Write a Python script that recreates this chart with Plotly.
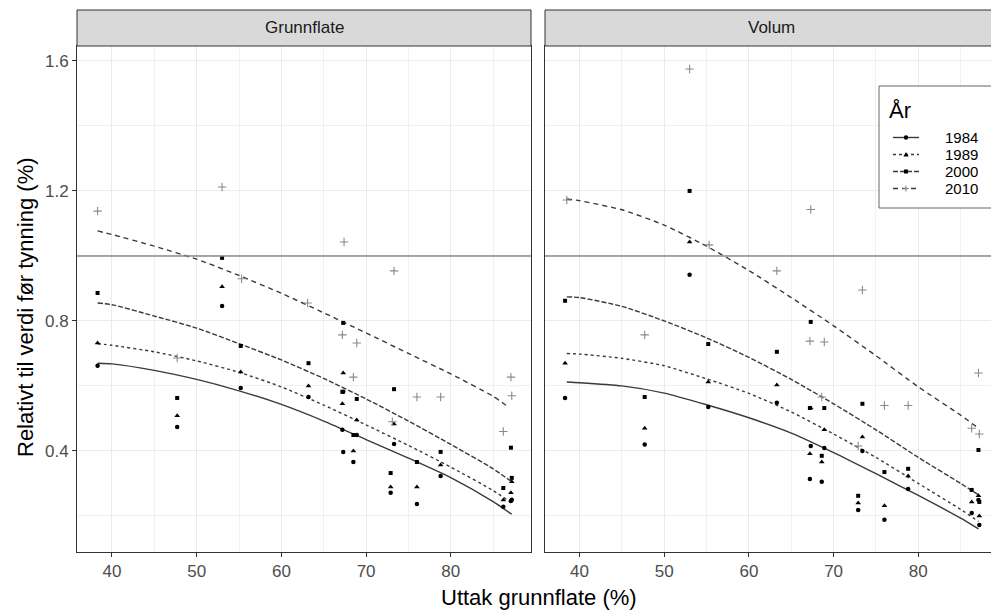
import plotly.graph_objects as go

W, H = 991, 612

# ---------------- data ----------------
YEARS = ["1984", "1989", "2000", "2010"]
PANELS = ["Grunnflate", "Volum"]
X_LABEL = "Uttak grunnflate (%)"
Y_LABEL = "Relativt til verdi før tynning (%)"
LEGEND_TITLE = "År"
X_TICKS = [40, 50, 60, 70, 80]
Y_TICKS = [0.4, 0.8, 1.2, 1.6]
REF_LEVEL = 1.0

# fitted curves, Grunnflate panel
g_curve_x = {
    "1984": [38.3, 40, 45, 50, 55, 60, 65, 70, 75, 80, 85, 87.2],
    "1989": [38.3, 40, 45, 50, 55, 60, 65, 70, 75, 80, 85, 87.2],
    "2000": [38.3, 40, 45, 50, 55, 60, 65, 70, 75, 80, 85, 87.2],
    "2010": [38.3, 40, 45, 50, 55, 60, 65, 70, 75, 80, 85, 86.8],
}
g_curve_y = {
    "1984": [0.670, 0.668, 0.648, 0.620, 0.585, 0.543, 0.492, 0.435, 0.378, 0.318, 0.244, 0.205],
    "1989": [0.730, 0.725, 0.705, 0.677, 0.642, 0.597, 0.541, 0.480, 0.417, 0.350, 0.278, 0.240],
    "2000": [0.855, 0.850, 0.815, 0.778, 0.730, 0.680, 0.623, 0.560, 0.492, 0.420, 0.345, 0.305],
    "2010": [1.077, 1.066, 1.030, 0.990, 0.940, 0.885, 0.825, 0.763, 0.700, 0.637, 0.568, 0.535],
}
# fitted curves, Volum panel
v_curve_x = {
    "1984": [38.5, 40, 45, 50, 55, 60, 65, 70, 75, 80, 85, 87.1],
    "1989": [38.5, 40, 45, 50, 55, 60, 65, 70, 75, 80, 85, 87.1],
    "2000": [38.5, 40, 45, 50, 55, 60, 65, 70, 75, 80, 85, 87.1],
    "2010": [38.5, 40, 45, 50, 55, 60, 65, 70, 75, 80, 85, 87.1],
}
v_curve_y = {
    "1984": [0.612, 0.610, 0.600, 0.578, 0.542, 0.502, 0.455, 0.395, 0.330, 0.263, 0.193, 0.160],
    "1989": [0.700, 0.698, 0.685, 0.662, 0.622, 0.577, 0.520, 0.452, 0.380, 0.300, 0.220, 0.183],
    "2000": [0.874, 0.872, 0.845, 0.800, 0.748, 0.688, 0.620, 0.545, 0.465, 0.380, 0.300, 0.265],
    "2010": [1.175, 1.170, 1.142, 1.095, 1.030, 0.955, 0.872, 0.785, 0.693, 0.597, 0.510, 0.470],
}

# observed points, Grunnflate panel
g_pts_x = {
    "1984": [38.3, 47.7, 53.0, 55.2, 63.2, 67.3, 67.2, 67.3, 68.9, 68.5, 73.3, 72.9, 76.0, 78.8, 87.1, 87.2, 86.2],
    "1989": [38.3, 47.7, 53.0, 55.2, 63.2, 67.3, 67.2, 68.9, 68.5, 73.3, 72.9, 76.0, 78.8, 87.1, 87.2, 86.2],
    "2000": [38.3, 47.7, 53.0, 55.2, 63.2, 67.3, 67.2, 68.9, 68.5, 73.3, 72.9, 76.0, 78.8, 87.1, 87.2, 86.2],
    "2010": [38.3, 47.7, 53.0, 55.3, 63.1, 67.4, 67.2, 68.9, 68.5, 73.3, 73.1, 76.0, 78.8, 87.1, 87.2, 86.2],
}
g_pts_y = {
    "1984": [0.662, 0.474, 0.846, 0.594, 0.566, 0.582, 0.465, 0.397, 0.449, 0.366, 0.421, 0.271, 0.237, 0.323, 0.246, 0.250, 0.228],
    "1989": [0.732, 0.508, 0.905, 0.643, 0.600, 0.640, 0.545, 0.495, 0.400, 0.483, 0.289, 0.289, 0.357, 0.271, 0.305, 0.249],
    "2000": [0.886, 0.563, 0.994, 0.723, 0.670, 0.794, 0.582, 0.560, 0.449, 0.590, 0.332, 0.366, 0.397, 0.410, 0.317, 0.286],
    "2010": [1.138, 0.686, 1.212, 0.930, 0.855, 1.043, 0.757, 0.732, 0.627, 0.954, 0.490, 0.566, 0.566, 0.627, 0.570, 0.460],
}
# observed points, Volum panel
v_pts_x = {
    "1984": [38.3, 47.7, 53.0, 55.2, 63.3, 67.3, 67.2, 68.9, 68.6, 73.4, 72.9, 76.0, 78.8, 87.1, 87.2, 86.3],
    "1989": [38.3, 47.7, 53.0, 55.2, 63.3, 67.3, 67.2, 68.9, 68.6, 73.4, 72.9, 76.0, 78.8, 87.1, 87.2, 86.3],
    "2000": [38.3, 47.7, 53.0, 55.2, 63.3, 67.3, 67.2, 68.9, 68.6, 73.4, 72.9, 76.0, 78.8, 87.1, 87.2, 86.3],
    "2010": [38.5, 47.7, 53.0, 55.3, 63.3, 67.3, 67.2, 68.9, 68.6, 73.4, 72.9, 76.0, 78.8, 87.1, 87.2, 86.3],
}
v_pts_y = {
    "1984": [0.563, 0.420, 0.942, 0.535, 0.548, 0.415, 0.314, 0.409, 0.305, 0.400, 0.218, 0.188, 0.283, 0.249, 0.172, 0.209],
    "1989": [0.670, 0.470, 1.043, 0.612, 0.603, 0.532, 0.391, 0.465, 0.366, 0.443, 0.240, 0.231, 0.323, 0.262, 0.200, 0.243],
    "2000": [0.862, 0.566, 1.200, 0.729, 0.705, 0.797, 0.532, 0.532, 0.385, 0.545, 0.262, 0.335, 0.345, 0.403, 0.243, 0.280],
    "2010": [1.172, 0.757, 1.575, 1.034, 0.954, 1.143, 0.738, 0.735, 0.566, 0.895, 0.415, 0.540, 0.540, 0.640, 0.452, 0.470],
}

# ---------------- styles ----------------
FONT = "Liberation Sans, Arial, sans-serif"
LINE_COLOR = "#3a3a3a"
DASH = {"1984": "solid", "1989": "dot", "2000": "5px,2px", "2010": "5px,4px"}
MSYM = {"1984": "circle", "1989": "triangle-up", "2000": "square", "2010": "cross-thin"}
MSIZE = {"1984": 4.5, "1989": 5, "2000": 4, "2010": 6}
MCOL = {"1984": "black", "1989": "black", "2000": "black", "2010": "#8a8a8a"}


def px(x):
    return x / W


def py(y):
    return 1 - y / H


fig = go.Figure()

panel_data = [
    ("x", "y", g_curve_x, g_curve_y, g_pts_x, g_pts_y),
    ("x2", "y2", v_curve_x, v_curve_y, v_pts_x, v_pts_y),
]
for xa, ya, cx, cy, pxs, pys in panel_data:
    for yr in YEARS:
        fig.add_trace(go.Scatter(
            x=cx[yr], y=cy[yr], mode="lines", xaxis=xa, yaxis=ya,
            line=dict(color=LINE_COLOR, width=1.4, dash=DASH[yr], shape="spline", smoothing=0.6),
            showlegend=False, hoverinfo="skip"))
    for yr in YEARS:
        mk = dict(symbol=MSYM[yr], size=MSIZE[yr], color=MCOL[yr])
        if yr == "2010":
            mk["line"] = dict(color=MCOL[yr], width=1.1)
        else:
            mk["line"] = dict(width=0)
        fig.add_trace(go.Scatter(
            x=pxs[yr], y=pys[yr], mode="markers", xaxis=xa, yaxis=ya,
            marker=mk, showlegend=False, name=yr))

# panel geometry (pixels)
L_X0, L_X1 = 77, 531
R_X0, R_X1 = 545, 991
P_Y0, P_Y1 = 46, 552
STRIP_Y0 = 10

xaxis_common = dict(
    tickvals=X_TICKS, ticks="outside", ticklen=4, tickwidth=1, tickcolor="#333333",
    tickfont=dict(family=FONT, size=17, color="#4d4d4d"),
    showgrid=True, gridcolor="#ebebeb", gridwidth=1.2,
    minor=dict(dtick=5, tick0=35, showgrid=True, gridcolor="#f0f0f0", gridwidth=0.8, ticks=""),
    showline=True, mirror=True, linecolor="#333333", linewidth=1, zeroline=False,
)
yaxis_common = dict(
    range=[0.089, 1.646], tickvals=Y_TICKS, ticktext=["0.4", "0.8", "1.2", "1.6"],
    showgrid=True, gridcolor="#ebebeb", gridwidth=1.2,
    minor=dict(dtick=0.2, tick0=0.2, showgrid=True, gridcolor="#f0f0f0", gridwidth=0.8, ticks=""),
    showline=True, mirror=True, linecolor="#333333", linewidth=1, zeroline=False,
    domain=[py(P_Y1), py(P_Y0)],
)

fig.update_layout(
    width=W, height=H, margin=dict(l=0, r=0, t=0, b=0),
    paper_bgcolor="white", plot_bgcolor="white", showlegend=False,
    xaxis=dict(xaxis_common, domain=[px(L_X0), px(L_X1)], range=[35.87, 89.47], anchor="y"),
    xaxis2=dict(xaxis_common, domain=[px(R_X0), px(R_X1)], range=[35.93, 88.58], anchor="y2"),
    yaxis=dict(yaxis_common, anchor="x", ticks="outside", ticklen=4, tickwidth=1, tickcolor="#333333",
               tickfont=dict(family=FONT, size=17, color="#4d4d4d")),
    yaxis2=dict(yaxis_common, anchor="x2", showticklabels=False, ticks=""),
)

shapes = []
# reference line at 1.0
for xr, yr_ in (("x domain", "y"), ("x2 domain", "y2")):
    shapes.append(dict(type="line", xref=xr, yref=yr_, x0=0, x1=1, y0=REF_LEVEL, y1=REF_LEVEL,
                       line=dict(color="#8a8a8a", width=1.4), layer="above"))
# strips
for x0, x1 in ((L_X0, L_X1), (R_X0, R_X1 + 12)):
    shapes.append(dict(type="rect", xref="paper", yref="paper", x0=px(x0), x1=px(x1),
                       y0=py(P_Y0), y1=py(STRIP_Y0), fillcolor="#d9d9d9",
                       line=dict(color="#333333", width=1)))

# legend box (manual)
LG_X0, LG_X1, LG_Y0, LG_Y1 = 879, 1002, 86, 208
shapes.append(dict(type="rect", xref="paper", yref="paper", x0=px(LG_X0), x1=px(LG_X1),
                   y0=py(LG_Y1), y1=py(LG_Y0), fillcolor="white",
                   line=dict(color="#666666", width=1), layer="above"))
row_y = [137.5, 154.5, 171.5, 188.5]
S_X0, S_X1, S_XC = 893, 919, 906
for yr, ry in zip(YEARS, row_y):
    shapes.append(dict(type="line", xref="paper", yref="paper", x0=px(S_X0), x1=px(S_X1),
                       y0=py(ry), y1=py(ry), layer="above",
                       line=dict(color=LINE_COLOR, width=1.4, dash=DASH[yr])))
    r = 2.2
    if yr == "1984":
        shapes.append(dict(type="circle", xref="paper", yref="paper", x0=px(S_XC - r), x1=px(S_XC + r),
                           y0=py(ry + r), y1=py(ry - r), fillcolor="black", line=dict(width=0), layer="above"))
    elif yr == "1989":
        path = "M {} {} L {} {} L {} {} Z".format(px(S_XC - 2.6), py(ry + 2), px(S_XC + 2.6), py(ry + 2),
                                                  px(S_XC), py(ry - 2.6))
        shapes.append(dict(type="path", xref="paper", yref="paper", path=path, fillcolor="black",
                           line=dict(width=0), layer="above"))
    elif yr == "2000":
        shapes.append(dict(type="rect", xref="paper", yref="paper", x0=px(S_XC - 2), x1=px(S_XC + 2),
                           y0=py(ry + 2), y1=py(ry - 2), fillcolor="black", line=dict(width=0), layer="above"))
    else:
        path = "M {} {} L {} {} M {} {} L {} {}".format(px(S_XC - 3), py(ry), px(S_XC + 3), py(ry),
                                                        px(S_XC), py(ry - 3), px(S_XC), py(ry + 3))
        shapes.append(dict(type="path", xref="paper", yref="paper", path=path,
                           line=dict(color="#8a8a8a", width=1.1), layer="above"))
fig.update_layout(shapes=shapes)

ann = []
ann.append(dict(text=PANELS[0], x=px((L_X0 + L_X1) / 2), y=py((STRIP_Y0 + P_Y0) / 2), xref="paper", yref="paper",
                showarrow=False, font=dict(family=FONT, size=17, color="#1a1a1a"), xanchor="center", yanchor="middle"))
ann.append(dict(text=PANELS[1], x=px(771.5), y=py((STRIP_Y0 + P_Y0) / 2), xref="paper", yref="paper",
                showarrow=False, font=dict(family=FONT, size=17, color="#1a1a1a"), xanchor="center", yanchor="middle"))
ann.append(dict(text=X_LABEL, x=px(539), y=py(597), xref="paper", yref="paper", showarrow=False,
                font=dict(family=FONT, size=22, color="black"), xanchor="center", yanchor="middle"))
ann.append(dict(text=Y_LABEL, x=px(25), y=py(307), xref="paper", yref="paper", showarrow=False, textangle=-90,
                font=dict(family=FONT, size=22, color="black"), xanchor="center", yanchor="middle"))
ann.append(dict(text=LEGEND_TITLE, x=px(887), y=py(110), xref="paper", yref="paper", showarrow=False,
                font=dict(family=FONT, size=22, color="black"), xanchor="left", yanchor="middle"))
for yr, ry in zip(YEARS, row_y):
    ann.append(dict(text=yr, x=px(979), y=py(ry), xref="paper", yref="paper", showarrow=False,
                    font=dict(family=FONT, size=15, color="black"), xanchor="right", yanchor="middle",
                    height=15, valign="middle", borderpad=0))
fig.update_layout(annotations=ann)

fig.write_html("out.html")
